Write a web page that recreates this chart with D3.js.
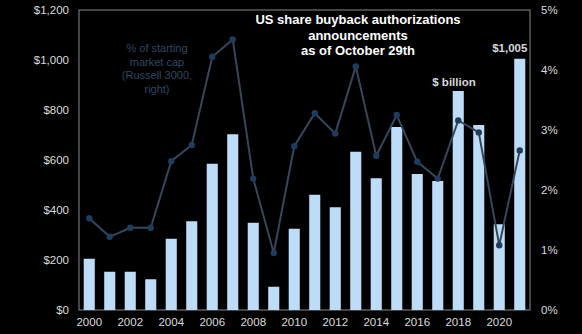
<!DOCTYPE html>
<html>
<head>
<meta charset="utf-8">
<script src="https://cdn.jsdelivr.net/npm/d3@7"></script>
<style>
  html, body { margin: 0; padding: 0; background: #000; }
  svg { display: block; }
  text { font-family: "Liberation Sans", Arial, sans-serif; }
</style>
</head>
<body>
<svg id="chart" width="582" height="334"></svg>
<script>
// US share buyback authorization announcements, year to date as of October 29th
const years = [2000, 2001, 2002, 2003, 2004, 2005, 2006, 2007, 2008, 2009, 2010,
               2011, 2012, 2013, 2014, 2015, 2016, 2017, 2018, 2019, 2020, 2021];
// $ billion announced
const buybacks = [205, 153, 153, 123, 285, 355, 585, 703, 349, 93, 325,
                  461, 411, 633, 527, 732, 544, 516, 876, 740, 343, 1005];
// % of starting market cap (Russell 3000), right axis
const pctOfCap = [1.53, 1.22, 1.37, 1.37, 2.48, 2.75, 4.22, 4.51, 2.19, 0.95, 2.73,
                  3.28, 2.94, 4.06, 2.57, 3.25, 2.47, 2.19, 3.16, 2.96, 1.08, 2.66];
const leftTicks = [0, 200, 400, 600, 800, 1000, 1200];
const rightTicks = [0, 1, 2, 3, 4, 5];
const yearTicks = [2000, 2002, 2004, 2006, 2008, 2010, 2012, 2014, 2016, 2018, 2020];

const svg = d3.select("#chart");
const m = { left: 79, right: 530, top: 10, bottom: 310 };

const x = d3.scaleBand()
  .domain(years)
  .range([m.left, m.right])
  .paddingInner(0.46)
  .paddingOuter(0.23);
const yL = d3.scaleLinear().domain([0, 1200]).range([m.bottom, m.top]);
const yR = d3.scaleLinear().domain([0, 5]).range([m.bottom, m.top]);

// plot frame
svg.append("rect")
  .attr("x", m.left).attr("y", m.top)
  .attr("width", m.right - m.left).attr("height", m.bottom - m.top)
  .attr("fill", "none").attr("stroke", "#8a8a8a").attr("stroke-width", 1);

// bars
svg.append("g").selectAll("rect")
  .data(years)
  .join("rect")
  .attr("x", d => x(d))
  .attr("width", x.bandwidth())
  .attr("y", (d, i) => yL(buybacks[i]))
  .attr("height", (d, i) => yL(0) - yL(buybacks[i]))
  .attr("fill", "#bddcf8");

// % of market cap line
const line = d3.line()
  .x((d, i) => x(years[i]) + x.bandwidth() / 2)
  .y(d => yR(d));
svg.append("path")
  .datum(pctOfCap)
  .attr("d", line)
  .attr("fill", "none")
  .attr("stroke", "#34475d")
  .attr("stroke-width", 2);
svg.append("g").selectAll("circle")
  .data(pctOfCap)
  .join("circle")
  .attr("cx", (d, i) => x(years[i]) + x.bandwidth() / 2)
  .attr("cy", d => yR(d))
  .attr("r", 3.2)
  .attr("fill", "#1f3b5d");

// left axis
const axL = d3.axisLeft(yL).tickValues(leftTicks).tickSize(0).tickPadding(10)
  .tickFormat(d => "$" + d3.format(",")(d));
const gL = svg.append("g").attr("transform", `translate(${m.left},0)`).call(axL);
// right axis
const axR = d3.axisRight(yR).tickValues(rightTicks).tickSize(0).tickPadding(11)
  .tickFormat(d => d + "%");
const gR = svg.append("g").attr("transform", `translate(${m.right},0)`).call(axR);
// bottom axis
const axB = d3.axisBottom(x).tickValues(yearTicks).tickSize(0).tickPadding(8);
const gB = svg.append("g").attr("transform", `translate(0,${m.bottom})`).call(axB);

[gL, gR, gB].forEach(g => {
  g.select(".domain").remove();
  g.selectAll("text")
    .attr("fill", "#dcdcdc")
    .style("font-size", "11.5px")
    .style("font-family", "'Liberation Sans', Arial, sans-serif");
});

// title
const title = svg.append("text")
  .attr("x", 358).attr("y", 24)
  .attr("text-anchor", "middle")
  .attr("fill", "#ffffff")
  .style("font-size", "13px")
  .style("font-weight", "bold");
["US share buyback authorizations", "announcements", "as of October 29th"].forEach((t, i) => {
  title.append("tspan").attr("x", 358).attr("dy", i === 0 ? 0 : 15.5).text(t);
});

// line legend note
const note = svg.append("text")
  .attr("x", 157).attr("y", 52)
  .attr("text-anchor", "middle")
  .attr("fill", "#2f4863")
  .style("font-size", "11px");
["% of starting", "market cap", "(Russell 3000,", "right)"].forEach((t, i) => {
  note.append("tspan").attr("x", 157).attr("dy", i === 0 ? 0 : 13.5).text(t);
});

// series label for bars
svg.append("text")
  .attr("x", 454).attr("y", 86)
  .attr("text-anchor", "middle")
  .attr("fill", "#d8d8d8")
  .style("font-size", "11.5px")
  .style("font-weight", "bold")
  .text("$ billion");

// value label on the latest bar
const last = years.length - 1;
svg.append("text")
  .attr("x", x(years[last]) + x.bandwidth() / 2 - 10)
  .attr("y", yL(buybacks[last]) - 7)
  .attr("text-anchor", "middle")
  .attr("fill", "#d8d8d8")
  .style("font-size", "11.5px")
  .style("font-weight", "bold")
  .text("$" + d3.format(",")(buybacks[last]));
</script>
</body>
</html>
